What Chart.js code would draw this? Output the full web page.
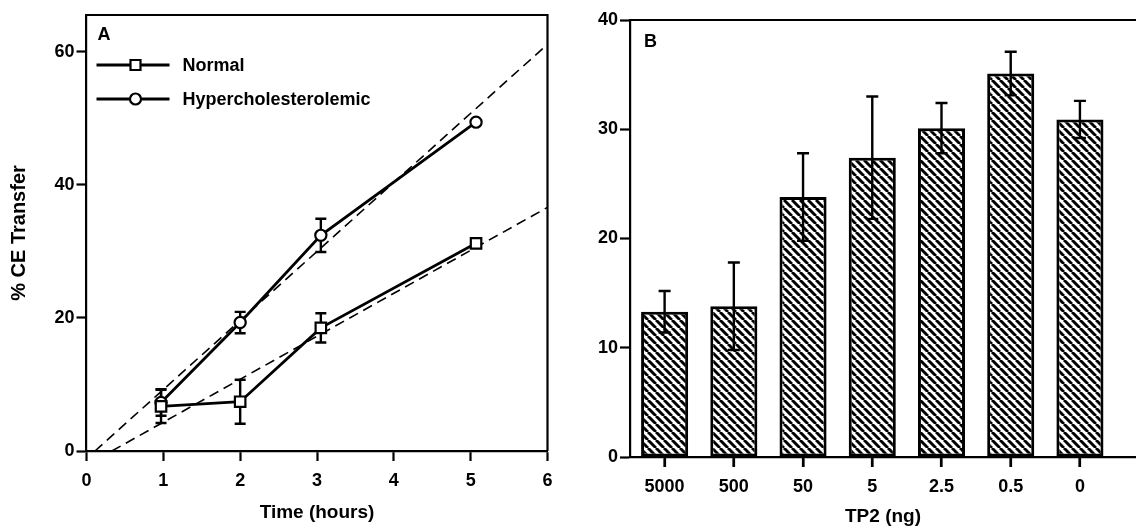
<!DOCTYPE html>
<html>
<head>
<meta charset="utf-8">
<script src="https://cdn.jsdelivr.net/npm/chart.js@4.4.1/dist/chart.umd.min.js"></script>
<style>
  html, body { margin: 0; padding: 0; background: #fff; }
  #wrap { position: relative; width: 1136px; height: 528px; overflow: hidden; }
  canvas { position: absolute; top: 0; }
  #cA { left: 0; }
  #cB { left: 568px; }
</style>
</head>
<body>
<div id="wrap">
  <canvas id="cA" width="568" height="528"></canvas>
  <canvas id="cB" width="568" height="528"></canvas>
</div>
<script>
// ---------- Panel A data ----------
const timeHours = [0.97, 2, 3.05, 5.07];
const normalCE = [6.7, 7.4, 18.5, 31.2];
const normalErr = [2.5, 3.3, 2.2, 0];
const hyperCE = [7.3, 19.3, 32.4, 49.4];
const hyperErr = [2.0, 1.6, 2.5, 0];
const normalFitX = [0.33, 6];
const normalFitY = [0, 36.6];
const hyperFitX = [0.11, 6];
const hyperFitY = [0, 61.1];
const timeTicks = [0, 1, 2, 3, 4, 5, 6];
const ceTicksA = [0, 20, 40, 60];

// ---------- Panel B data ----------
const tp2Labels = ['5000', '500', '50', '5', '2.5', '0.5', '0'];
const tp2CE = [13.3, 13.8, 23.8, 27.4, 30.1, 35.1, 30.9];
const tp2Err = [1.9, 4.0, 4.0, 5.6, 2.3, 2.0, 1.7];
const ceTicksB = [0, 10, 20, 30, 40];

const FONT = "'Liberation Sans', Arial, Helvetica, sans-serif";
Chart.defaults.font.family = FONT;
Chart.defaults.font.weight = 'bold';
Chart.defaults.font.size = 18;
Chart.defaults.color = '#000';

const zip = (xs, ys) => xs.map((x, i) => ({ x: x, y: ys[i] }));

function axisBase(pad) {
  return {
    border: { display: true, color: '#000', width: 2.2 },
    grid: { display: true, offset: false, drawOnChartArea: false, drawTicks: true, tickLength: 10, tickWidth: 2.2, tickColor: '#000', color: '#000' },
    ticks: { color: '#000', font: { size: 18, weight: 'bold' }, padding: pad }
  };
}

// error bars plugin
const errorBars = {
  id: 'errorBars',
  draw(chart, cap, lw) {
    const ctx = chart.ctx;
    const xs = chart.scales.x, ys = chart.scales.y;
    ctx.save();
    ctx.strokeStyle = '#000';
    ctx.lineWidth = lw;
    chart.data.datasets.forEach(ds => {
      if (!ds.errors) return;
      ds.data.forEach((p, i) => {
        const e = ds.errors[i];
        if (!e) return;
        const x = xs.getPixelForValue(p.x);
        const yt = ys.getPixelForValue(p.y + e);
        const yb = ys.getPixelForValue(p.y - e);
        ctx.beginPath();
        ctx.moveTo(x, yt); ctx.lineTo(x, yb);
        ctx.moveTo(x - cap / 2, yt); ctx.lineTo(x + cap / 2, yt);
        ctx.moveTo(x - cap / 2, yb); ctx.lineTo(x + cap / 2, yb);
        ctx.stroke();
      });
    });
    ctx.restore();
  }
};

// ---------- Panel A ----------
const frameA = {
  id: 'frameA',
  beforeDatasetsDraw(chart) {
    errorBars.draw(chart, 11, 2.4);
  },
  afterDraw(chart) {
    const { ctx, chartArea: a } = chart;
    ctx.save();
    ctx.strokeStyle = '#000';
    ctx.lineWidth = 2.2;
    ctx.beginPath();
    ctx.moveTo(a.left, a.top);
    ctx.lineTo(a.right, a.top);
    ctx.lineTo(a.right, a.bottom);
    ctx.stroke();
    // panel letter
    ctx.fillStyle = '#000';
    ctx.font = 'bold 18px ' + FONT;
    ctx.textBaseline = 'middle';
    ctx.textAlign = 'left';
    ctx.fillText('A', a.left + 11, a.top + 20);
    // legend
    const rows = [chart.data.datasets[0], chart.data.datasets[1]];
    rows.forEach((ds, k) => {
      const y = a.top + 50 + k * 34;
      const x0 = a.left + 10, x1 = a.left + 83, xm = a.left + 49;
      ctx.lineWidth = 2.8;
      ctx.beginPath(); ctx.moveTo(x0, y); ctx.lineTo(x1, y); ctx.stroke();
      ctx.lineWidth = 2.2;
      ctx.fillStyle = '#fff';
      ctx.beginPath();
      if (ds.pointStyle === 'rect') ctx.rect(xm - 5, y - 5, 10, 10);
      else ctx.arc(xm, y, 5.5, 0, Math.PI * 2);
      ctx.fill(); ctx.stroke();
      ctx.fillStyle = '#000';
      ctx.font = 'bold 18px ' + FONT;
      ctx.fillText(ds.label, a.left + 96, y + 1);
    });
    ctx.restore();
  }
};

const xA = axisBase(9);
Object.assign(xA, {
  type: 'linear', min: 0, max: 6,
  afterBuildTicks: s => { s.ticks = timeTicks.map(v => ({ value: v })); },
  afterFit: s => { s.height = 77; },
  title: { display: true, text: 'Time (hours)', color: '#000', font: { size: 19, weight: 'bold' }, padding: { top: 0, bottom: 4 } }
});
const yA = axisBase(2);
Object.assign(yA, {
  type: 'linear', min: 0, max: 65.5,
  afterBuildTicks: s => { s.ticks = ceTicksA.map(v => ({ value: v })); },
  afterFit: s => { s.width = 86.5; },
  title: { display: true, text: '% CE Transfer', color: '#000', font: { size: 20, weight: 'bold' }, padding: { top: 7, bottom: 0 } }
});

new Chart(document.getElementById('cA'), {
  type: 'line',
  data: {
    datasets: [
      { label: 'Normal', data: zip(timeHours, normalCE), errors: normalErr,
        borderColor: '#000', borderWidth: 2.8, pointStyle: 'rect', pointRadius: 7.4,
        pointBackgroundColor: '#fff', pointBorderColor: '#000', pointBorderWidth: 2.2, tension: 0 },
      { label: 'Hypercholesterolemic', data: zip(timeHours, hyperCE), errors: hyperErr,
        borderColor: '#000', borderWidth: 2.8, pointStyle: 'circle', pointRadius: 5.6,
        pointBackgroundColor: '#fff', pointBorderColor: '#000', pointBorderWidth: 2.2, tension: 0 },
      { label: 'Normal fit', data: zip(normalFitX, normalFitY), borderColor: '#000',
        borderWidth: 1.6, borderDash: [10, 6], pointRadius: 0 },
      { label: 'Hyper fit', data: zip(hyperFitX, hyperFitY), borderColor: '#000',
        borderWidth: 1.6, borderDash: [10, 6], pointRadius: 0 }
    ]
  },
  options: {
    responsive: false, animation: false, devicePixelRatio: 1,
    layout: { padding: { top: 15, right: 20.5, left: 0, bottom: 0 } },
    plugins: { legend: { display: false }, tooltip: { enabled: false } },
    scales: { x: xA, y: yA }
  },
  plugins: [frameA]
});

// ---------- Panel B ----------
function hatchPattern(ctx) {
  const s = 8;
  const c = document.createElement('canvas');
  c.width = s; c.height = s;
  const g = c.getContext('2d');
  g.fillStyle = '#fff';
  g.fillRect(0, 0, s, s);
  g.strokeStyle = '#000';
  g.lineWidth = 2.9;
  g.beginPath();
  for (let k = -1; k <= 1; k++) {
    g.moveTo(k * s, 0);
    g.lineTo(k * s + s, s);
  }
  g.stroke();
  return ctx.createPattern(c, 'repeat');
}

const frameB = {
  id: 'frameB',
  afterDatasetsDraw(chart) {
    errorBars.draw(chart, 12, 2.4);
  },
  afterDraw(chart) {
    const { ctx, chartArea: a } = chart;
    const xs = chart.scales.x;
    ctx.save();
    ctx.strokeStyle = '#000';
    ctx.lineWidth = 2.2;
    ctx.beginPath();
    ctx.moveTo(a.left, a.top);
    ctx.lineTo(chart.width, a.top);
    // category tick marks below the axis
    xs.ticks.forEach((t, i) => {
      const x = Math.round(xs.getPixelForTick(i));
      ctx.moveTo(x, a.bottom);
      ctx.lineTo(x, a.bottom + 10);
    });
    ctx.stroke();
    ctx.fillStyle = '#000';
    ctx.font = 'bold 18px ' + FONT;
    ctx.textBaseline = 'middle';
    ctx.textAlign = 'left';
    ctx.fillText('B', a.left + 14, a.top + 22);
    ctx.restore();
  }
};

const cB = document.getElementById('cB');
const pat = hatchPattern(cB.getContext('2d'));

const xB = axisBase(9);
Object.assign(xB, {
  type: 'linear', min: -0.5, max: 6.81, offset: false,
  afterBuildTicks: s => { s.ticks = tp2Labels.map((_, i) => ({ value: i })); },
  afterFit: s => { s.height = 71; },
  title: { display: true, text: 'TP2 (ng)', color: '#000', font: { size: 19, weight: 'bold' }, padding: { top: 0, bottom: 0 } }
});
xB.ticks = Object.assign({}, xB.ticks, { callback: v => tp2Labels[v] });
const yB = axisBase(2);
Object.assign(yB, {
  type: 'linear', min: 0, max: 40,
  afterBuildTicks: s => { s.ticks = ceTicksB.map(v => ({ value: v })); },
  afterFit: s => { s.width = 62; }
});

new Chart(cB, {
  type: 'bar',
  data: {
    datasets: [{
      label: 'CE transfer',
      data: zip(tp2Labels.map((_, i) => i), tp2CE),
      errors: tp2Err,
      backgroundColor: pat,
      borderColor: '#000',
      borderWidth: 3,
      borderSkipped: false,
      barPercentage: 0.85,
      categoryPercentage: 0.8
    }]
  },
  options: {
    responsive: false, animation: false, devicePixelRatio: 1,
    layout: { padding: { top: 20, right: 0, left: 0, bottom: 0 } },
    plugins: { legend: { display: false }, tooltip: { enabled: false } },
    scales: { x: xB, y: yB }
  },
  plugins: [frameB]
});
</script>
</body>
</html>
